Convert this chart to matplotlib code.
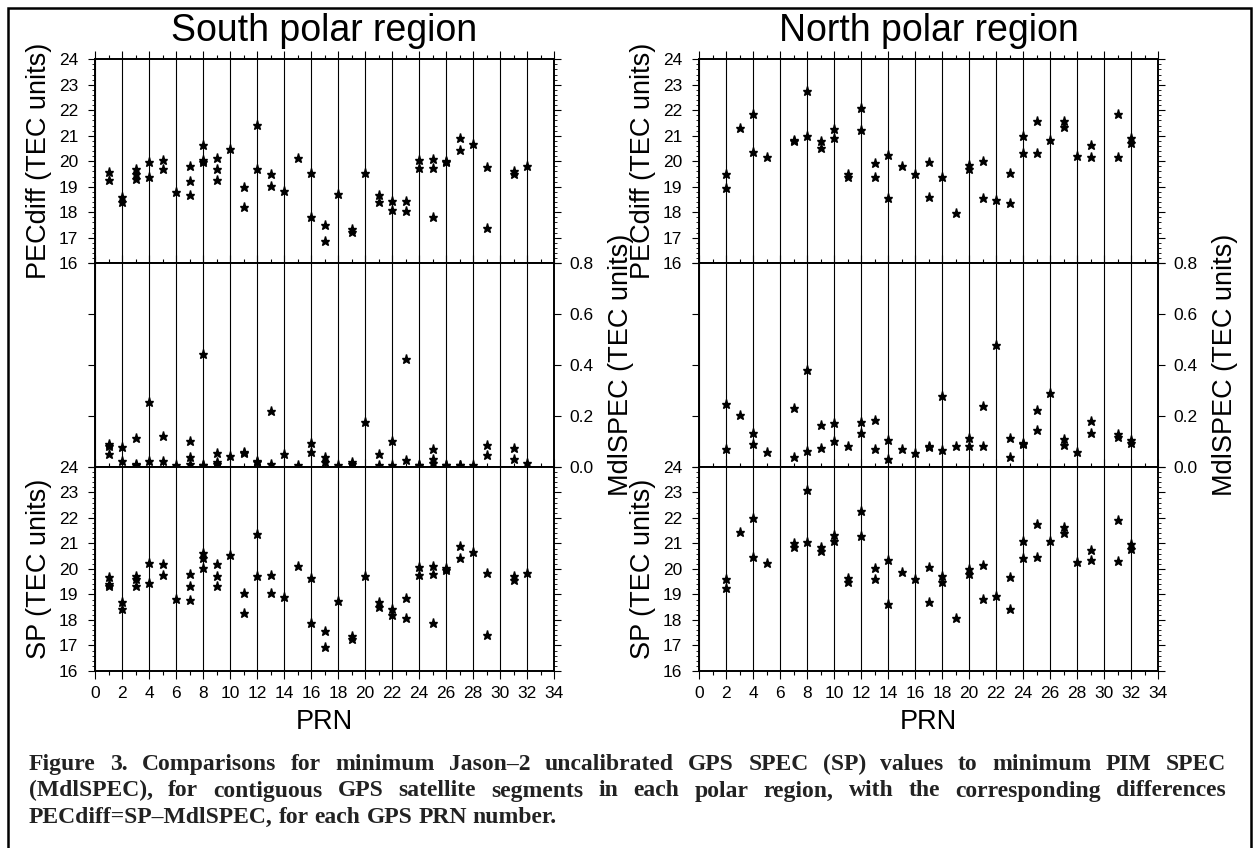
import matplotlib
matplotlib.use("Agg")
import matplotlib.pyplot as plt
from matplotlib.patches import Rectangle
from matplotlib.transforms import IdentityTransform
from matplotlib.ticker import MultipleLocator, FormatStrFormatter

plt.rcParams.update({
    "font.family": ["Liberation Sans", "DejaVu Sans"],
    "font.size": 12.5,
    "axes.linewidth": 1.4,
})

W, H = 1254, 848

# ---- South polar region ----
south_pec_prn = [1, 1, 2, 2, 3, 3, 3, 4, 4, 5, 5, 6, 7, 7, 7, 8, 8, 8, 9, 9, 9, 10, 11, 11,
                 12, 12, 13, 13, 14, 15, 16, 16, 17, 17, 18, 19, 19, 20, 21, 21, 22, 22,
                 23, 23, 24, 24, 25, 25, 25, 26, 26, 27, 27, 28, 29, 29, 31, 31, 32]
south_pec_val = [19.58, 19.25, 18.61, 18.40, 19.71, 19.51, 19.30, 19.97, 19.38, 20.07, 19.71,
                 18.78, 19.80, 19.22, 18.69, 20.64, 20.04, 19.97, 20.13, 19.68, 19.28, 20.49,
                 19.00, 18.21, 21.43, 19.68, 19.52, 19.03, 18.82, 20.11, 19.55, 17.83, 17.52,
                 16.87, 18.70, 17.35, 17.23, 19.54, 18.66, 18.42, 18.44, 18.08, 18.44, 18.04,
                 20.05, 19.72, 20.08, 19.74, 17.81, 20.01, 19.97, 20.93, 20.45, 20.69, 19.76,
                 17.38, 19.62, 19.50, 19.81]

south_mdl_prn = [1, 1, 1, 2, 2, 3, 3, 3, 4, 4, 5, 5, 6, 7, 7, 7, 8, 8, 8, 9, 9, 9, 10, 11, 11,
                 12, 12, 13, 13, 14, 15, 16, 16, 17, 17, 18, 19, 19, 20, 21, 21, 22, 22, 23, 23,
                 24, 24, 25, 25, 25, 26, 26, 27, 27, 28, 29, 29, 31, 31, 32]
south_mdl_val = [0.089, 0.083, 0.050, 0.076, 0.024, 0.112, 0.010, 0.008, 0.252, 0.021, 0.121,
                 0.024, 0.005, 0.102, 0.038, 0.010, 0.440, 0.008, 0.005, 0.054, 0.020, 0.009,
                 0.042, 0.056, 0.055, 0.021, 0.018, 0.218, 0.012, 0.051, 0.005, 0.093, 0.059,
                 0.037, 0.018, 0.005, 0.018, 0.010, 0.175, 0.049, 0.007, 0.101, 0.005, 0.423,
                 0.026, 0.008, 0.007, 0.071, 0.031, 0.016, 0.005, 0.005, 0.005, 0.005, 0.005,
                 0.087, 0.045, 0.072, 0.030, 0.015]

south_sp_prn = [1, 1, 1, 2, 2, 3, 3, 3, 4, 4, 5, 5, 6, 7, 7, 7, 8, 8, 8, 9, 9, 9, 10, 11, 11,
                12, 12, 13, 13, 14, 15, 16, 16, 17, 17, 18, 19, 19, 20, 21, 21, 22, 22, 23, 23,
                24, 24, 25, 25, 25, 26, 26, 27, 27, 28, 29, 29, 31, 31, 32]
south_sp_val = [19.67, 19.40, 19.32, 18.71, 18.42, 19.73, 19.60, 19.33, 20.23, 19.45, 20.19,
                19.75, 18.81, 19.81, 19.34, 18.77, 20.62, 20.44, 20.05, 20.19, 19.72, 19.32,
                20.53, 19.07, 18.28, 21.39, 19.71, 19.76, 19.07, 18.90, 20.11, 19.66, 17.90,
                17.58, 16.95, 18.75, 17.38, 17.26, 19.73, 18.69, 18.49, 18.45, 18.19, 18.85,
                18.08, 20.06, 19.76, 20.10, 19.80, 17.89, 20.03, 19.97, 20.89, 20.45, 20.67,
                19.85, 17.43, 19.72, 19.55, 19.84]

# ---- North polar region ----
north_prn = [2, 2, 3, 4, 4, 5, 7, 7, 8, 8, 9, 9, 10, 10, 11, 11, 12, 12, 13, 13, 14, 14, 15,
             16, 17, 17, 18, 19, 20, 20, 21, 21, 22, 23, 23, 24, 24, 25, 25, 26, 27, 27, 28,
             29, 29, 31, 31, 32, 32]
north_pec_val = [19.49, 18.97, 21.31, 21.87, 20.35, 20.18, 20.84, 20.80, 22.74, 21.01, 20.81,
                 20.52, 21.27, 20.93, 19.52, 19.40, 22.10, 21.21, 19.93, 19.39, 20.23, 18.57,
                 19.80, 19.52, 19.96, 18.60, 19.39, 17.97, 19.86, 19.68, 20.02, 18.57, 18.47,
                 19.55, 18.37, 21.01, 20.32, 21.58, 20.31, 20.84, 21.59, 21.33, 20.22, 20.63,
                 20.15, 21.87, 20.18, 20.90, 20.71]
north_mdl_prn = [2, 2, 3, 4, 4, 5, 7, 7, 8, 8, 9, 9, 10, 10, 11, 12, 12, 13, 13, 14, 14, 15,
                 16, 17, 17, 18, 18, 19, 20, 20, 21, 21, 22, 23, 23, 24, 24, 25, 25, 26, 27, 27,
                 28, 29, 29, 31, 31, 32, 32]
north_mdl_val = [0.244, 0.071, 0.201, 0.133, 0.088, 0.056, 0.230, 0.039, 0.380, 0.063, 0.163,
                 0.074, 0.173, 0.101, 0.080, 0.175, 0.131, 0.185, 0.068, 0.105, 0.029, 0.070,
                 0.053, 0.080, 0.077, 0.278, 0.067, 0.080, 0.112, 0.083, 0.239, 0.080, 0.479,
                 0.113, 0.039, 0.091, 0.089, 0.221, 0.143, 0.290, 0.108, 0.084, 0.059, 0.181,
                 0.131, 0.127, 0.117, 0.104, 0.093]
north_sp_prn = [2, 2, 3, 4, 4, 5, 7, 7, 8, 8, 9, 9, 10, 10, 11, 11, 12, 12, 13, 13, 14, 14, 15,
                16, 17, 17, 18, 18, 19, 20, 20, 21, 21, 22, 23, 23, 24, 24, 25, 25, 26, 27, 27,
                28, 29, 29, 31, 31, 32, 32]
north_sp_val = [19.60, 19.25, 21.46, 21.98, 20.48, 20.25, 21.01, 20.85, 23.10, 21.06, 20.88,
                20.70, 21.35, 21.10, 19.63, 19.48, 22.28, 21.31, 20.03, 19.60, 20.37, 18.64,
                19.90, 19.60, 20.07, 18.71, 19.71, 19.49, 18.07, 19.99, 19.80, 20.14, 18.84,
                18.95, 19.70, 18.42, 21.09, 20.45, 21.76, 20.48, 21.11, 21.66, 21.40, 20.28,
                20.75, 20.35, 21.93, 20.32, 20.97, 20.78]

titles = ["South polar region", "North polar region"]
caption_lines = [
    "Figure 3. Comparisons for minimum Jason\u20132 uncalibrated GPS SPEC (SP) values to minimum PIM SPEC",
    "(MdlSPEC), for contiguous GPS satellite segments in each polar region, with the corresponding differences",
    "PECdiff=SP\u2013MdlSPEC, for each GPS PRN number.",
]

panels = {
    0: [(south_pec_prn, south_pec_val), (south_mdl_prn, south_mdl_val), (south_sp_prn, south_sp_val)],
    1: [(north_prn, north_pec_val), (north_mdl_prn, north_mdl_val), (north_sp_prn, north_sp_val)],
}

fig = plt.figure(figsize=(W / 100, H / 100), dpi=100)

ax_left_px = [95, 699]
ax_w = 459 / W
ax_h = 0.2406
bottoms = [0.6895, 0.44965, 0.20873]


def style_x(ax, is_bottom):
    ax.set_xlim(0, 34)
    ax.xaxis.set_major_locator(MultipleLocator(2))
    ax.xaxis.set_minor_locator(MultipleLocator(1))
    ax.grid(True, axis="x", which="major", color="black", linewidth=0.8)
    ax.set_axisbelow(True)
    ax.tick_params(axis="x", which="major", direction="out", length=6, width=0.8,
                   top=True, bottom=is_bottom, labelbottom=is_bottom, labelsize=12.5, pad=5)
    ax.tick_params(axis="x", which="minor", direction="out", length=3, width=0.8,
                   top=True, bottom=is_bottom)


for col in range(2):
    x0 = ax_left_px[col] / W
    for row in range(3):
        ax = fig.add_axes([x0, bottoms[row], ax_w, ax_h])
        prn, val = panels[col][row]
        style_x(ax, row == 2)
        if row == 1:
            ax.set_ylim(0, 0.8)
            ax.yaxis.set_major_locator(MultipleLocator(0.2))
            ax.yaxis.set_major_formatter(FormatStrFormatter("%.1f"))
            ax.tick_params(axis="y", which="major", direction="out", length=5, width=0.8,
                           left=True, right=True, labelleft=False, labelright=True,
                           labelsize=12.5, pad=6)
        else:
            ax.set_ylim(16, 24)
            ax.yaxis.set_major_locator(MultipleLocator(1))
            ax.yaxis.set_minor_locator(MultipleLocator(0.2))
            ax.tick_params(axis="y", which="major", direction="out", length=5, width=0.8,
                           left=True, right=True, labelleft=True, labelright=False,
                           labelsize=12.5, pad=7)
            ax.tick_params(axis="y", which="minor", direction="out", length=2.5, width=0.6,
                           left=True, right=True)
        ax.plot(prn, val, linestyle="none", marker="*", markersize=6.5, color="black",
                clip_on=False, zorder=5)

    # panel labels
    left_px = ax_left_px[col]
    right_px = left_px + 459
    centers_y = [161, 365, 569]
    fig.text((left_px - 56) / W, 1 - centers_y[0] / H, "PECdiff (TEC units)", rotation=90,
             ha="center", va="center", fontsize=19.5)
    fig.text((right_px + 67) / W, 1 - centers_y[1] / H, "MdlSPEC (TEC units)", rotation=90,
             ha="center", va="center", fontsize=19.5)
    fig.text((left_px - 56) / W, 1 - centers_y[2] / H, "SP (TEC units)", rotation=90,
             ha="center", va="center", fontsize=19.5)
    fig.text((left_px + 229.5) / W, 1 - 722 / H, "PRN", ha="center", va="center", fontsize=19.5)
    fig.text((left_px + 229.5) / W, 1 - 31 / H, titles[col], ha="center", va="center",
             fontsize=27)

# caption, justified on the first two lines
renderer = fig.canvas.get_renderer()
cap_x0, cap_x1 = 29, 1226
cap_base = [770, 796.5, 823]
cap_size = 17
for i, line in enumerate(caption_lines):
    words = line.split(" ")
    texts = [fig.text(0, H - cap_base[i], w, transform=IdentityTransform(), ha="left",
                      va="baseline", fontsize=cap_size, fontweight="bold", color="#222222",
                      family=["Liberation Serif", "DejaVu Serif"]) for w in words]
    widths = [t.get_window_extent(renderer).width for t in texts]
    if i < 2:
        gap = (cap_x1 - cap_x0 - sum(widths)) / (len(words) - 1)
    else:
        gap = 0.25 * cap_size * 100 / 72
    x = cap_x0
    for t, w in zip(texts, widths):
        t.set_x(x)
        x += w + gap

# frame around the figure (open at the bottom edge of the canvas)
fig.patches.append(Rectangle((8 / W, -6 / H), 1243 / W, 846 / H, transform=fig.transFigure,
                             fill=False, linewidth=1.8, edgecolor="black"))

fig.savefig("out.png", dpi=100, facecolor="white")
